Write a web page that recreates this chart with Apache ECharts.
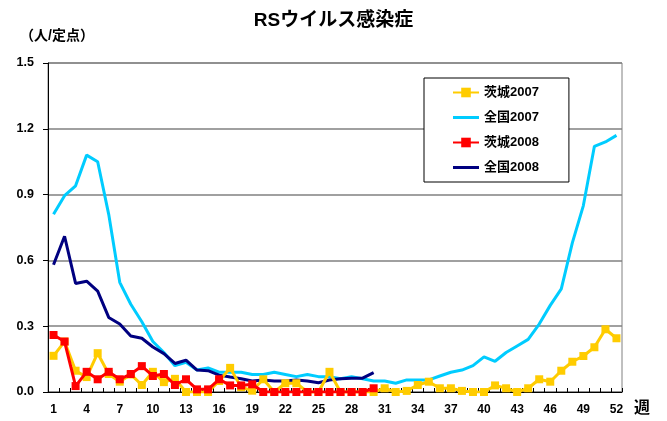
<!DOCTYPE html>
<html><head><meta charset="utf-8">
<script src="https://cdn.jsdelivr.net/npm/echarts@6/dist/echarts.min.js"></script>
<style>html,body{margin:0;padding:0;background:#fff}#c{width:667px;height:421px}</style>
</head><body><div id="c"></div>
<script>
const weeks = Array.from({length:52},(_, i)=>String(i+1));
const yTicks = [0, 0.3, 0.6, 0.9, 1.2, 1.5];
const ibaraki2007 = [0.165,0.23,0.097,0.068,0.177,0.082,0.047,0.08,0.032,0.092,0.045,0.06,0,0,0,0.05,0.11,0.022,0.006,0.058,0,0.04,0.04,0,0,0.092,0,0,0,0,0.017,0,0.005,0.032,0.047,0.017,0.017,0.005,0,0,0.03,0.017,0,0.017,0.058,0.047,0.097,0.138,0.164,0.204,0.286,0.245];
const national2007 = [0.81,0.895,0.94,1.08,1.05,0.81,0.5,0.40,0.32,0.23,0.18,0.12,0.135,0.10,0.11,0.09,0.09,0.09,0.08,0.08,0.09,0.08,0.07,0.08,0.07,0.07,0.06,0.07,0.06,0.05,0.05,0.04,0.055,0.055,0.055,0.073,0.09,0.10,0.12,0.16,0.14,0.18,0.21,0.24,0.31,0.395,0.47,0.68,0.85,1.12,1.14,1.17];
const ibaraki2008 = [0.26,0.23,0.027,0.092,0.058,0.092,0.058,0.082,0.118,0.073,0.082,0.032,0.058,0.012,0.012,0.058,0.03,0.03,0.035,0,0,0,0,0,0,0,0,0,0,0.017];
const national2008 = [0.58,0.71,0.495,0.505,0.46,0.34,0.31,0.255,0.245,0.205,0.175,0.13,0.145,0.10,0.097,0.077,0.068,0.06,0.05,0.055,0.05,0.05,0.055,0.05,0.042,0.055,0.06,0.063,0.063,0.088];

const FONT = 'Liberation Sans, Arial, "Noto Sans CJK JP", sans-serif';
const LINE_ICON = 'path://M0,0H26V3H0Z';
const chart = echarts.init(document.getElementById('c'), null, {renderer:'canvas'});
chart.setOption({
  animation:false,
  backgroundColor:'#fff',
  title:{text:'RSウイルス感染症', left:'center', top:6,
    textStyle:{fontFamily:FONT, fontWeight:'bold', fontSize:19, color:'#000'}},
  grid:{left:48, right:45, top:63, bottom:29, show:true, borderColor:'#808080', borderWidth:1},
  legend:{
    orient:'vertical', left:424, top:78,
    padding:[8,30,8,28], itemGap:12, itemWidth:26, itemHeight:12,
    backgroundColor:'#fff', borderColor:'#000', borderWidth:1,
    textStyle:{fontFamily:FONT, fontWeight:'bold', fontSize:13, color:'#000'},
    data:[{name:'茨城2007'},{name:'全国2007', icon:LINE_ICON},{name:'茨城2008'},{name:'全国2008', icon:LINE_ICON}]
  },
  xAxis:{type:'category', data:weeks, boundaryGap:true,
    axisLine:{lineStyle:{color:'#000', width:1}},
    axisTick:{show:true, inside:true, length:4, interval:0, lineStyle:{color:'#000'}},
    axisLabel:{interval:2, margin:12, fontFamily:FONT, fontWeight:'bold', fontSize:12, color:'#000'},
    splitLine:{show:false}},
  yAxis:{type:'value', min:yTicks[0], max:yTicks[yTicks.length-1], interval:0.3,
    axisLine:{show:true, lineStyle:{color:'#000', width:1}},
    axisTick:{show:true, length:5, lineStyle:{color:'#000'}},
    axisLabel:{margin:14, fontFamily:FONT, fontWeight:'bold', fontSize:12.5, color:'#000',
      formatter:v=>v.toFixed(1)},
    splitLine:{show:true, lineStyle:{color:'#808080', width:1.5}}},
  graphic:[
    {type:'text', left:20, top:29, style:{text:'（人/定点）', font:'bold 14px '+FONT, fill:'#000'}},
    {type:'text', left:634, top:401, style:{text:'週', font:'bold 16px '+FONT, fill:'#000'}}
  ],
  series:[
    {name:'茨城2007', type:'line', data:ibaraki2007, symbol:'rect', symbolSize:8, showAllSymbol:true,
     itemStyle:{color:'#FFCC00'}, lineStyle:{color:'#FFCC00', width:3}, z:3},
    {name:'全国2007', type:'line', data:national2007, symbol:'none', showSymbol:false,
     itemStyle:{color:'#00CCFF'}, lineStyle:{color:'#00CCFF', width:3}, z:2},
    {name:'茨城2008', type:'line', data:ibaraki2008, symbol:'rect', symbolSize:8, showAllSymbol:true,
     itemStyle:{color:'#FF0000'}, lineStyle:{color:'#FF0000', width:3}, z:4},
    {name:'全国2008', type:'line', data:national2008, symbol:'none', showSymbol:false,
     itemStyle:{color:'#000080'}, lineStyle:{color:'#000080', width:3}, z:2}
  ]
});
</script></body></html>
